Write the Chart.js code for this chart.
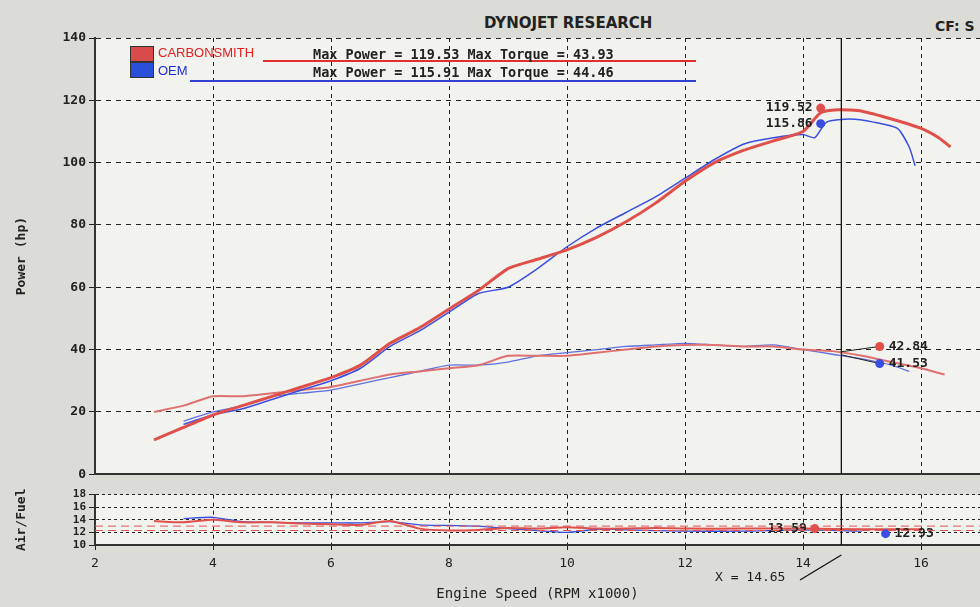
<!DOCTYPE html>
<html><head><meta charset="utf-8">
<script src="https://cdn.jsdelivr.net/npm/chart.js@4/dist/chart.umd.min.js"></script>
<style>
body{margin:0;width:980px;height:607px;background:#dcdcd6;font-family:"DejaVu Sans",sans-serif;overflow:hidden;position:relative}
.bx{position:absolute;left:0;width:980px}
.t{position:absolute;font-weight:bold;color:#222}
</style></head><body>
<div class="t" style="left:484px;top:14px;font-size:15px">DYNOJET RESEARCH</div>
<div class="t" style="left:935px;top:18px;font-size:14px">CF: S</div>
<div class="bx" style="top:0;height:485px"><canvas id="c1" width="980" height="485"></canvas></div>
<div class="bx" style="top:485px;height:122px"><canvas id="c2" width="980" height="122"></canvas></div>
<div style="position:absolute;left:130px;top:46px;width:22px;height:14px;background:#d94a4a;border:1px solid #333"></div>
<div style="position:absolute;left:130px;top:62px;width:22px;height:14px;background:#2a4fd8;border:1px solid #333"></div>
<div style="position:absolute;left:158px;top:45px;font:13px 'Liberation Sans';color:#e02020">CARBONSMITH</div>
<div style="position:absolute;left:158px;top:63px;font:13px 'Liberation Sans';color:#2030d0">OEM</div>
<div style="position:absolute;left:263px;top:60px;width:433px;height:2px;background:#e03030"></div>
<div style="position:absolute;left:190px;top:80px;width:506px;height:2px;background:#3040d0"></div>
<div class="t" style="left:313px;top:46px;font-size:13.5px;font-family:'DejaVu Sans Mono'">Max Power = 119.53 Max Torque = 43.93</div>
<div class="t" style="left:313px;top:64px;font-size:13.5px;font-family:'DejaVu Sans Mono'">Max Power = 115.91 Max Torque = 44.46</div>
<script>
const rpmPowerRed=[3,3.5,4,4.5,5,5.5,6,6.5,7,7.5,8,8.5,9,9.5,10,10.5,11,11.5,12,12.5,13,13.5,14,14.3,14.6,15,15.5,16,16.3,16.5];
const powerRed=[11,15,19,22,25,28,31,35,42,47,53,59,66,69,72,76,81,87,94,100,104,107,110,116,117,116.5,114,111,108,105];
const rpmPowerBlue=[3.5,4,4.5,5,5.5,6,6.5,7,7.5,8,8.5,9,9.5,10,10.5,11,11.5,12,12.5,13,13.5,14,14.2,14.4,14.8,15.2,15.6,15.8,15.9];
const powerBlue=[16,19,21,24,27,30,34,41,46,52,58,60,66,73,79,84,89,95,101,106,108,109,108,113,114,113,111,105,99];
const rpmTorqueRed=[3,3.5,4,4.5,5,5.5,6,6.5,7,7.5,8,8.5,9,9.5,10,10.5,11,11.5,12,12.5,13,13.5,14,14.5,15,15.5,16,16.4];
const torqueRed=[20,22,25,25,26,27,28,30,32,33,34,35,38,38,38,39,40,41,41.5,41.5,41,41,40,39.5,38,36,34,32];
const rpmTorqueBlue=[3.5,4,4.5,5,5.5,6,6.5,7,7.5,8,8.5,9,9.5,10,10.5,11,11.5,12,12.5,13,13.5,14,14.5,15,15.5,15.8];
const torqueBlue=[17,20,22,25,26,27,29,31,33,35,35,36,38,39,40,41,41.5,42,41.5,41,41.5,40,38.5,37,35,33];
const rpmAfrRed=[3,3.5,4,4.5,5,5.5,6,6.5,7,7.5,8,8.5,9,9.5,10,10.5,11,11.5,12,13,14,15,16];
const afrRed=[13.8,13.6,14,13.6,13.6,13.4,13.3,13.2,13.8,12.6,12.3,12.4,12.7,12.6,12.8,12.6,12.6,12.7,12.6,12.6,12.6,12.5,12.5];
const rpmAfrBlue=[3.5,4,4.5,5,5.5,6,6.5,7,7.5,8,8.5,9,9.5,10,10.5,11,12,13,14,15];
const afrBlue=[14.2,14.4,13.7,13.6,13.5,13.5,13.5,13.7,13.2,13.1,13,12.6,12.3,12,12.5,12.4,12.2,12.2,12.4,12.2];
const xTicks=[2,4,6,8,10,12,14,16];
const powerTicks=[0,20,40,60,80,100,120,140];
const afrTicks=[10,12,14,16,18];
const cursorX=14.65;
const RED='#e0504a',BLUE='#3a4fe0';
const pts=(xs,ys)=>xs.map((x,i)=>({x,y:ys[i]}));
const ds=(d,c,w)=>({data:d,borderColor:c,borderWidth:w,pointRadius:0,tension:0.2,fill:false});
const xScale=(show)=>({type:'linear',min:2,max:17,
 afterBuildTicks:a=>{a.ticks=xTicks.map(v=>({value:v}))},
 afterFit:s=>{s.height=show?62:0},
 grid:{color:'#222',lineWidth:1,tickLength:show?5:0,drawTicks:show},
 border:{display:true,color:'#333',width:2,dash:[4,4]},
 ticks:{display:show,color:'#222',font:{size:13,family:'DejaVu Sans Mono'},padding:6},
 title:{display:show,text:'Engine Speed (RPM x1000)',color:'#222',font:{size:14,family:'DejaVu Sans Mono'},padding:{top:0}}});
function annot(list){return{id:'ann',afterDatasetsDraw(ch){const c=ch.ctx,x=ch.scales.x,y=ch.scales.y,a=ch.chartArea;
 c.save();c.strokeStyle='#111';c.lineWidth=1.3;const cx=x.getPixelForValue(cursorX);c.beginPath();c.moveTo(cx,a.top);c.lineTo(cx,a.bottom);c.stroke();
 list.forEach(m=>{const px=x.getPixelForValue(m.x),py=y.getPixelForValue(m.y);
  if(m.from){c.strokeStyle='#222';c.lineWidth=1;c.beginPath();c.moveTo(x.getPixelForValue(m.from[0]),y.getPixelForValue(m.from[1]));c.lineTo(px,py);c.stroke();}
  c.fillStyle=m.c;c.beginPath();c.arc(px,py,4.5,0,7);c.fill();
  c.fillStyle='#222';c.font='bold 13px "DejaVu Sans Mono"';c.textBaseline='middle';
  if(m.side==='l'){c.textAlign='right';c.fillText(m.t,px-8,py);}else{c.textAlign='left';c.fillText(m.t,px+9,py);}});
 if(ch.canvas.id==='c2'){c.fillStyle='#222';c.font='13px "DejaVu Sans Mono"';c.textAlign='left';c.fillText('X = 14.65',715,93);
  c.beginPath();c.moveTo(800,95);c.lineTo(cx,a.bottom+10);c.stroke();
  c.strokeStyle='#d55';c.setLineDash([8,5]);c.lineWidth=1;[13,12.3].forEach(v=>{const yy=y.getPixelForValue(v);c.beginPath();c.moveTo(a.left,yy);c.lineTo(a.right,yy);c.stroke();});}
 c.restore();}}}
const yBase=(min,max,ticks,title,font,dash)=>({min,max,afterBuildTicks:a=>{a.ticks=ticks.map(v=>({value:v}))},afterFit:s=>{s.width=81},
 grid:{color:'#222',tickLength:6},border:{color:'#333',width:2,dash:dash},
 ticks:{color:'#222',autoSkip:false,font:{size:font,weight:'bold',family:'DejaVu Sans Mono'},padding:3},
 title:{display:true,text:title,color:'#222',padding:{top:0,bottom:4},font:{size:13,weight:'bold',family:'DejaVu Sans Mono'}}});
new Chart(document.getElementById('c1'),{type:'line',
 data:{datasets:[ds(pts(rpmPowerRed,powerRed),RED,3),ds(pts(rpmPowerBlue,powerBlue),BLUE,1.5),ds(pts(rpmTorqueRed,torqueRed),'#e07070',2),ds(pts(rpmTorqueBlue,torqueBlue),'#6070e0',1.3)]},
 options:{responsive:false,animation:false,layout:{padding:{top:38,bottom:7,right:0,left:14}},plugins:{legend:{display:false},tooltip:{enabled:false}},
  scales:{x:xScale(false),y:yBase(0,140,powerTicks,'Power (hp)',13,[5,5])},
  elements:{line:{borderJoinStyle:'round'}}},
 plugins:[{id:'bg',beforeDraw(ch){const a=ch.chartArea;ch.ctx.fillStyle='#f2f2ee';ch.ctx.fillRect(a.left,a.top,a.right-a.left,a.bottom-a.top);}},
  annot([{x:14.3,y:117.5,c:RED,t:'119.52',side:'l'},{x:14.3,y:112.5,c:BLUE,t:'115.86',side:'l'},
   {x:15.3,y:41,c:RED,t:'42.84',from:[14.65,39.3]},{x:15.3,y:35.5,c:BLUE,t:'41.53',from:[14.65,38.3]}])]});
new Chart(document.getElementById('c2'),{type:'line',
 data:{datasets:[ds(pts(rpmAfrRed,afrRed),RED,2),ds(pts(rpmAfrBlue,afrBlue),BLUE,1.3)]},
 options:{responsive:false,animation:false,layout:{padding:{top:6,bottom:0,left:14}},plugins:{legend:{display:false},tooltip:{enabled:false}},
  scales:{x:xScale(true),y:yBase(10,18,afrTicks,'Air/Fuel',11,[3,3])}},
 plugins:[{id:'bg',beforeDraw(ch){const a=ch.chartArea;ch.ctx.fillStyle='#f2f2ee';ch.ctx.fillRect(a.left,a.top,a.right-a.left,a.bottom-a.top);}},
  annot([{x:14.2,y:12.6,c:RED,t:'13.59',side:'l'},{x:15.4,y:11.8,c:BLUE,t:'12.93'}])]});
</script></body></html>
